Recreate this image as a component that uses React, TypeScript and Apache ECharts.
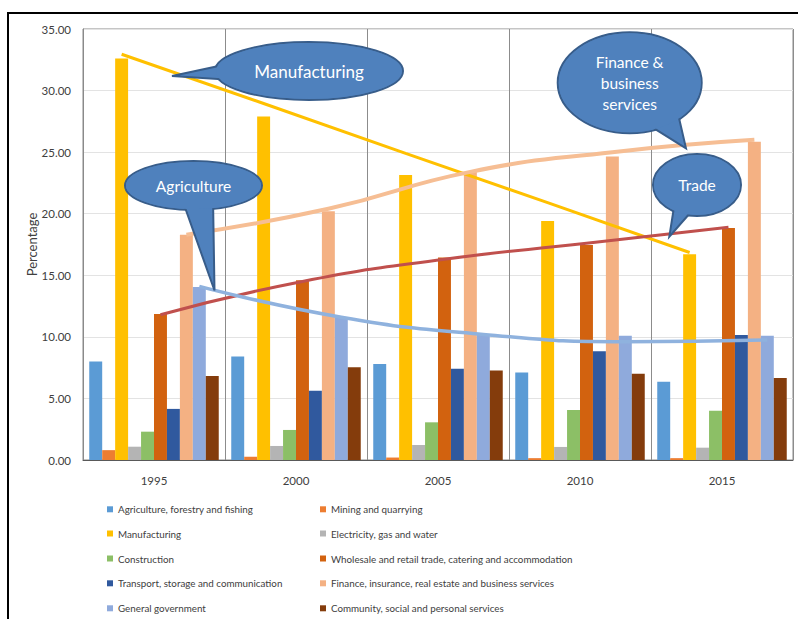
import React, { useEffect, useRef } from "react";
import * as echarts from "echarts";

const categories = ["1995", "2000", "2005", "2010", "2015"];
const sectorNames = [
  "Agriculture, forestry and fishing",
  "Mining and quarrying",
  "Manufacturing",
  "Electricity, gas and water",
  "Construction",
  "Wholesale and retail trade, catering and accommodation",
  "Transport, storage and communication",
  "Finance, insurance, real estate and business services",
  "General government",
  "Community, social and personal services",
];
const sectorColors = [
  "#5B9BD5", "#ED7D31", "#FFC000", "#B4B4B4", "#8CBF66",
  "#D2620F", "#30599E", "#F4B183", "#8FAADC", "#843C0C",
];
const agriculture = [8.0, 8.4, 7.8, 7.1, 6.35];
const mining = [0.8, 0.27, 0.2, 0.15, 0.15];
const manufacturing = [32.6, 27.9, 23.15, 19.4, 16.7];
const electricity = [1.08, 1.14, 1.22, 1.06, 1.0];
const construction = [2.3, 2.44, 3.06, 4.06, 4.0];
const wholesale = [11.85, 14.6, 16.45, 17.45, 18.85];
const transport = [4.15, 5.63, 7.4, 8.83, 10.15];
const finance = [18.3, 20.2, 23.4, 24.65, 25.85];
const government = [14.05, 11.6, 10.15, 10.1, 10.1];
const community = [6.82, 7.53, 7.26, 7.01, 6.66];
const sectorValues = [
  agriculture, mining, manufacturing, electricity, construction,
  wholesale, transport, finance, government, community,
];

// trend lines, at each year's bar of the sector
const manufacturingTrend = [32.95, 28.95, 24.9, 20.9, 16.85];
const financeTrend = [18.3, 20.4, 23.4, 25.0, 26.0];
const tradeTrend = [11.8, 14.5, 16.3, 17.6, 18.9];
const governmentTrend = [14.1, 11.6, 10.2, 9.6, 9.75];

const yTicks = { min: 0, max: 35, interval: 5 };
const CAT_GAP = 0.088;

const FONT = "Lato, 'Open Sans', sans-serif";

function barCenter(k: number, i: number) {
  const barW = (1 - CAT_GAP) / sectorNames.length;
  return k + CAT_GAP / 2 + (i + 0.5) * barW;
}

function callout(
  cx: number, cy: number, rx: number, ry: number,
  tail: number[][], lines: string[], fontSize: number, lineH: number
) {
  const fill = "#4F81BD";
  const stroke = "#385D8A";
  const els: any[] = [
    { type: "ellipse", shape: { cx, cy, rx, ry }, style: { fill, stroke, lineWidth: 2 }, z: 100 },
    { type: "polygon", shape: { points: tail }, style: { fill, stroke, lineWidth: 2, lineJoin: "miter" }, z: 101 },
    { type: "ellipse", shape: { cx, cy, rx: rx - 1, ry: ry - 1 }, style: { fill }, z: 102 },
  ];
  const n = lines.length;
  lines.forEach((t, j) => {
    els.push({
      type: "text",
      x: cx,
      y: cy + (j - (n - 1) / 2) * lineH,
      z: 103,
      style: {
        text: t,
        fill: "#FFFFFF",
        font: `${fontSize}px ${FONT}`,
        align: "center",
        verticalAlign: "middle",
      },
    });
  });
  return els;
}

export default function App() {
  const ref = useRef<HTMLDivElement>(null);
  useEffect(() => {
    if (!ref.current) return;
    const chart = echarts.init(ref.current, undefined, { renderer: "svg" });

    const barSeries = sectorNames.map((name, i) => ({
      name,
      type: "bar",
      data: sectorValues[i],
      itemStyle: { color: sectorColors[i] },
      barGap: "0%",
      barCategoryGap: `${CAT_GAP * 100}%`,
    }));

    const trend = (name: string, vals: number[], idx: number, color: string, width: number, smooth: boolean) => ({
      name,
      type: "line",
      xAxisIndex: 1,
      data: vals.map((v, k) => [barCenter(k, idx), v]),
      symbol: "none",
      smooth,
      lineStyle: { color, width, cap: "butt" },
      z: 5,
    });

    const rowTops = [502.3, 526.5, 551.5, 576.3, 601.3];
    const colLefts = [107, 320];
    const legends = sectorNames.map((name, i) => ({
      orient: "horizontal",
      left: colLefts[i % 2],
      top: rowTops[Math.floor(i / 2)],
      padding: 0,
      itemWidth: 6,
      itemHeight: 6,
      icon: "rect",
      data: [name],
      textStyle: { fontSize: 9.8, lineHeight: 14, color: "#404040", fontFamily: FONT },
    }));

    chart.setOption({
      animation: false,
      grid: {
        left: 83, top: 29, right: 5, bottom: 159,
        show: true, borderColor: "#8A8A8A", borderWidth: 1,
      },
      legend: legends,
      xAxis: [
        {
          type: "category",
          data: categories,
          axisTick: { show: false },
          axisLine: { lineStyle: { color: "#595959", width: 1 } },
          axisLabel: { color: "#404040", fontSize: 11.5, fontFamily: FONT, margin: 14 },
          splitLine: { show: true, interval: 0, lineStyle: { color: "#8C8C8C", width: 1 } },
        },
        { type: "value", min: 0, max: 5, show: false },
      ],
      yAxis: {
        type: "value",
        min: yTicks.min,
        max: yTicks.max,
        interval: yTicks.interval,
        name: "Percentage",
        nameLocation: "middle",
        nameGap: 45,
        nameMoveOverlap: false,
        nameTextStyle: { color: "#404040", fontSize: 13, fontFamily: FONT },
        axisLine: { show: true, lineStyle: { color: "#8A8A8A" } },
        axisTick: { show: false },
        axisLabel: {
          color: "#404040", fontSize: 11.5, fontFamily: FONT, margin: 12,
          formatter: (v: number) => v.toFixed(2),
        },
        splitLine: { lineStyle: { color: "#E3E3E3", width: 1 } },
      },
      series: [
        ...barSeries,
        trend("Manufacturing trend", manufacturingTrend, 2, "#FFC000", 3, false),
        trend("Finance trend", financeTrend, 7, "#F6BE94", 4, true),
        trend("Trade trend", tradeTrend, 5, "#C0504D", 3, true),
        trend("Government trend", governmentTrend, 8, "#8FB2DE", 3.5, true),
      ],
      graphic: [
        {
          type: "rect",
          shape: { x: 8, y: 13, width: 900, height: 700 },
          style: { fill: "none", stroke: "#000000", lineWidth: 2 },
          z: 99,
        },
        ...callout(309, 71, 94, 29, [[228, 64], [172, 76], [232, 80]], ["Manufacturing"], 17, 20),
        ...callout(193.5, 185.5, 68.5, 24.5, [[182, 199], [214.5, 290.5], [213, 198]], ["Agriculture"], 15.5, 20),
        ...callout(629.7, 82.8, 72, 50.5, [[648, 124.6], [686, 148.3], [677.6, 112]], ["Finance &", "business", "services"], 15.5, 21),
        ...callout(697, 185, 44, 31, [[674.5, 204], [669.3, 236.7], [694, 208.5]], ["Trade"], 15.5, 20),
      ],
    });
    return () => chart.dispose();
  }, []);
  return (
    <div
      ref={ref}
      style={{ position: "fixed", left: 0, top: 0, width: 798, height: 619, background: "#fff" }}
    />
  );
}
